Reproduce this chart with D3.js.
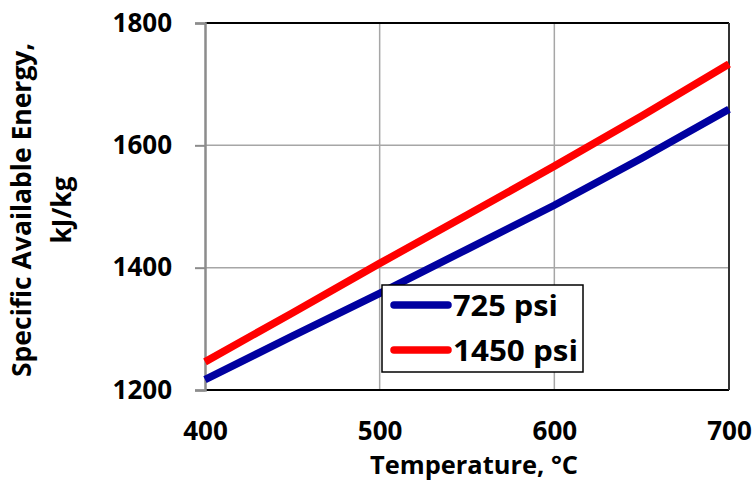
<!DOCTYPE html>
<html>
<head>
<meta charset="utf-8">
<script src="https://cdn.jsdelivr.net/npm/d3@7"></script>
<style>
  body { margin: 0; background: #fff; }
  svg { display: block; }
  text { font-family: "Open Sans", Lato, sans-serif; font-weight: 700; fill: #000; }
</style>
</head>
<body>
<svg id="chart" width="755" height="483"></svg>
<script>
// Temperature (°C) and specific available energy (kJ/kg) for two steam pressures
const temperatures = [400, 450, 500, 550, 600, 650, 700];
const energy725 = [1217, 1288, 1358, 1430, 1502, 1579, 1659];
const energy1450 = [1246, 1326, 1407, 1486, 1566, 1648, 1733];
const seriesNames = ["725 psi", "1450 psi"];
const seriesColors = ["#0000A0", "#FF0000"];
const xTicks = [400, 500, 600, 700];
const yTicks = [1200, 1400, 1600, 1800];

const svg = d3.select("#chart");
const m = { left: 205, right: 729, top: 23, bottom: 390 };

const x = d3.scaleLinear().domain([400, 700]).range([m.left, m.right]);
const y = d3.scaleLinear().domain([1200, 1800]).range([m.bottom, m.top]);

// gridlines
const grid = svg.append("g");
grid.selectAll("line.v").data(xTicks.slice(1, -1)).join("line")
  .attr("x1", d => x(d)).attr("x2", d => x(d))
  .attr("y1", m.top).attr("y2", m.bottom)
  .attr("stroke", "#A6A6A6").attr("stroke-width", 1.5);
grid.selectAll("line.h").data(yTicks.slice(1, -1)).join("line")
  .attr("x1", m.left).attr("x2", m.right)
  .attr("y1", d => y(d)).attr("y2", d => y(d))
  .attr("stroke", "#A6A6A6").attr("stroke-width", 1.5);

// frame: black top, bottom and right edges
svg.append("line").attr("x1", m.left).attr("x2", m.right).attr("y1", m.top).attr("y2", m.top)
  .attr("stroke", "#000").attr("stroke-width", 2);
svg.append("line").attr("x1", m.left).attr("x2", m.right).attr("y1", m.bottom).attr("y2", m.bottom)
  .attr("stroke", "#000").attr("stroke-width", 2);
svg.append("line").attr("x1", m.right).attr("x2", m.right).attr("y1", m.top).attr("y2", m.bottom)
  .attr("stroke", "#333").attr("stroke-width", 2);

// y axis (grey, ticks outside)
const yAxis = svg.append("g").attr("transform", `translate(${m.left},0)`)
  .call(d3.axisLeft(y).tickValues(yTicks).tickSize(10).tickPadding(23).tickFormat(d3.format("d")));
yAxis.select(".domain").attr("stroke", "#8C8C8C").attr("stroke-width", 2.5);
yAxis.selectAll(".tick line").attr("stroke", "#8C8C8C").attr("stroke-width", 2);
yAxis.selectAll(".tick text").style("font-size", "26px").style("font-family", "'Open Sans', sans-serif")
  .style("font-weight", 700).attr("fill", "#000");

// x axis, labels placed on an explicit baseline
const xAxis = svg.append("g").attr("transform", `translate(0,${m.bottom})`)
  .call(d3.axisBottom(x).tickValues(xTicks).tickSize(0).tickFormat(d3.format("d")));
xAxis.select(".domain").remove();
xAxis.selectAll(".tick text").attr("y", 50).attr("dy", 0)
  .style("font-size", "26px").style("font-family", "'Open Sans', sans-serif")
  .style("font-weight", 700).attr("fill", "#000");

// series lines
const line = d3.line().x((d, i) => x(temperatures[i])).y(d => y(d));
[energy725, energy1450].forEach((vals, k) => {
  svg.append("path").datum(vals)
    .attr("d", line)
    .attr("fill", "none")
    .attr("stroke", seriesColors[k])
    .attr("stroke-width", 7.5);
});

// axis titles
svg.append("text").attr("x", 474).attr("y", 474).attr("text-anchor", "middle")
  .attr("textLength", 208).attr("lengthAdjust", "spacingAndGlyphs")
  .style("font-size", "25px").text("Temperature, °C");
const yt = svg.append("g").attr("transform", "translate(31,210) rotate(-90)");
yt.append("text").attr("x", 0).attr("y", 0).attr("text-anchor", "middle")
  .attr("textLength", 334).attr("lengthAdjust", "spacingAndGlyphs")
  .style("font-size", "26px").text("Specific Available Energy,");
yt.append("text").attr("x", 0).attr("y", 40).attr("text-anchor", "middle")
  .attr("textLength", 67).attr("lengthAdjust", "spacingAndGlyphs")
  .style("font-size", "26px").text("kJ/kg");

// legend
const lg = svg.append("g").attr("transform", "translate(382,285)");
lg.append("rect").attr("width", 201).attr("height", 87)
  .attr("fill", "#fff").attr("stroke", "#000").attr("stroke-width", 1.5);
const legendWidths = [105, 125];
seriesNames.forEach((name, k) => {
  const cy = 20 + k * 45;
  lg.append("line").attr("x1", 12).attr("x2", 66).attr("y1", cy).attr("y2", cy)
    .attr("stroke", seriesColors[k]).attr("stroke-width", 7.5).attr("stroke-linecap", "round");
  lg.append("text").attr("x", 71).attr("y", cy + 11)
    .attr("textLength", legendWidths[k]).attr("lengthAdjust", "spacingAndGlyphs")
    .style("font-size", "29px").text(name);
});
</script>
</body>
</html>
